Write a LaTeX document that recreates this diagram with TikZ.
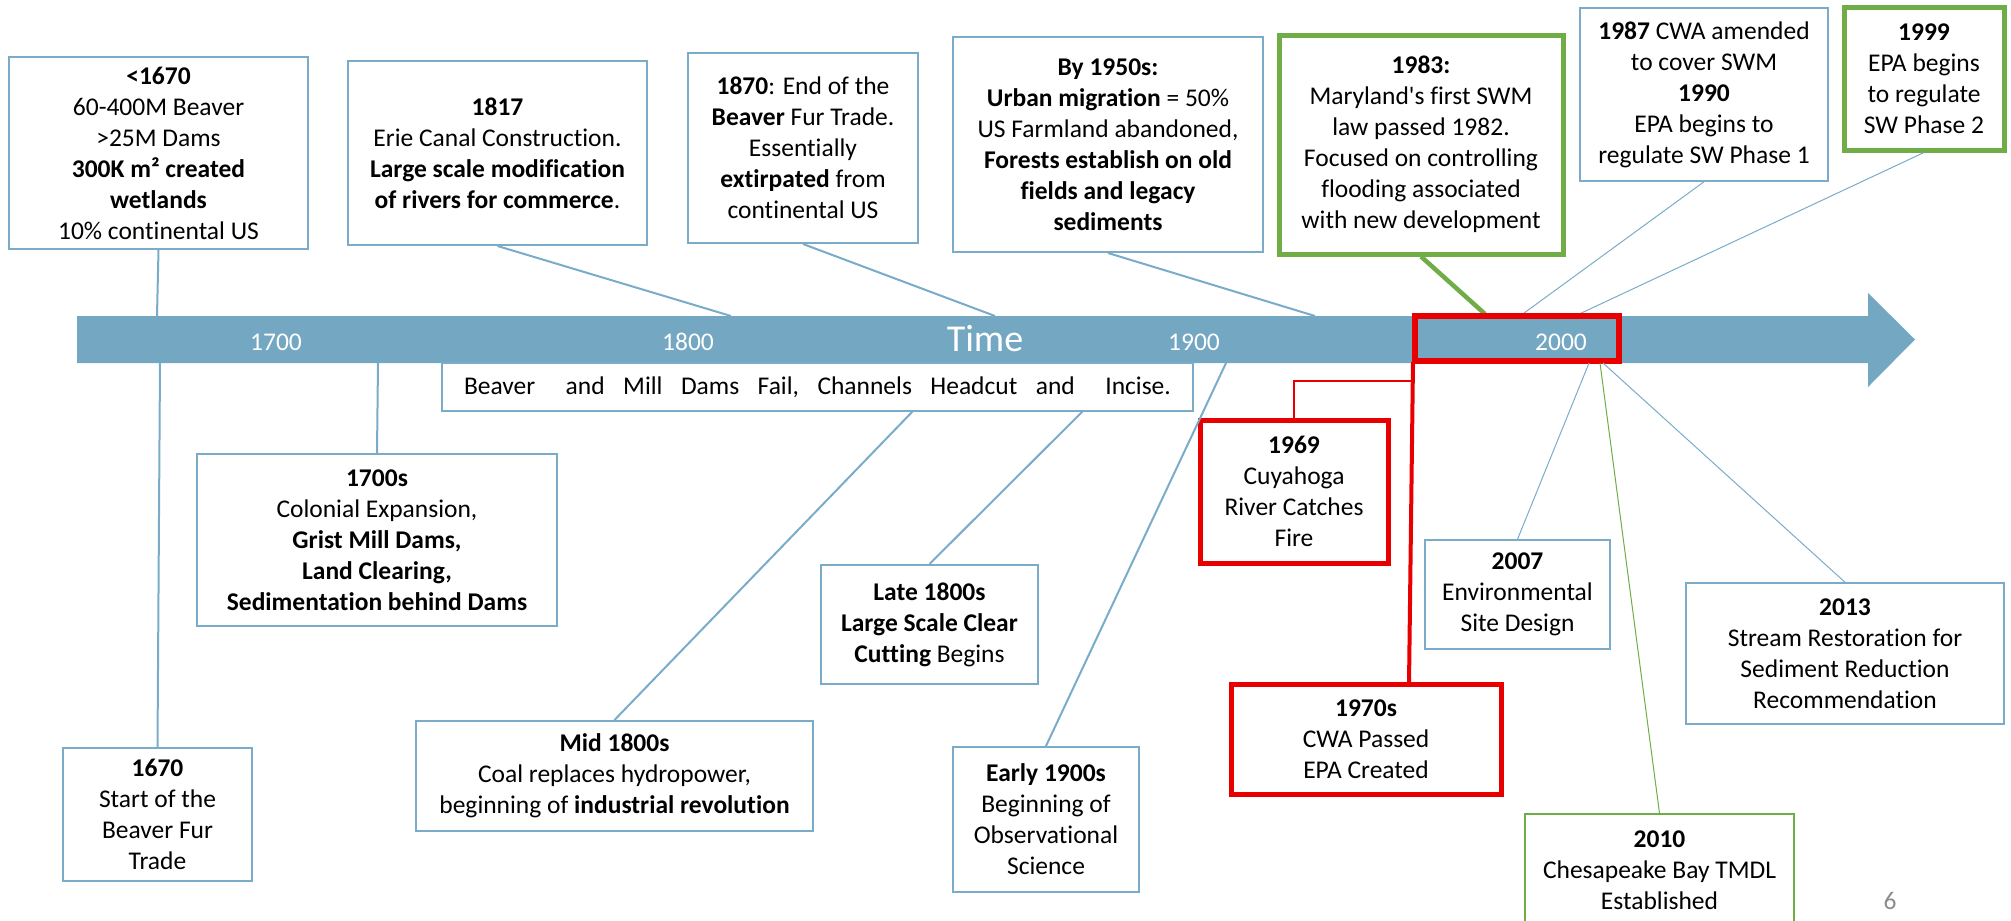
\documentclass[tikz,border=0pt]{standalone}
\usepackage{fontspec}
\setmainfont{Carlito}[RawFeature={-liga}]
\definecolor{axisblue}{RGB}{115,167,194}
\definecolor{boxblue}{RGB}{122,172,202}
\definecolor{grn}{RGB}{112,173,71}
\definecolor{rd}{RGB}{232,0,0}
\begin{document}
\begin{tikzpicture}[x=1pt,y=-1pt,
  every node/.style={font=\fontsize{25.5}{31}\selectfont},
  box/.style={draw=boxblue,line width=2pt,fill=white,align=center,inner sep=0pt},
  thinbox/.style={box,line width=1.5pt},
  greenbox/.style={box,draw=grn,line width=5pt},
  greenthinbox/.style={box,draw=grn,line width=1.5pt},
  redbox/.style={box,draw=rd,line width=5pt},
  conn/.style={draw=boxblue,line width=2pt},
  thinconn/.style={draw=boxblue,line width=1pt},
  axlabel/.style={text=white}]
\useasboundingbox (0,0) rectangle (2011,921);
\clip (0,0) rectangle (2011,921);
% axis arrow
\fill[axisblue] (77,316) -- (1868,316) -- (1868,293) -- (1915,339.5) -- (1868,387) -- (1868,363) -- (77,363) -- cycle;
\node[axlabel] (t1700) at (276,342) {1700};
\node[axlabel] (t1800) at (688,342) {1800};
\node[axlabel,font=\fontsize{38}{40}\selectfont] (ttime) at (985,339) {Time};
\node[axlabel] (t1900) at (1194,342) {1900};
\node[axlabel] (t2000) at (1561,342) {2000};
% axis attach points
\coordinate (aT1670) at (157,316);
\coordinate (aT1817) at (731,316);
\coordinate (aT1870) at (995,316);
\coordinate (aT1950) at (1315,316);
\coordinate (aT1983) at (1485,314);
\coordinate (aT1987) at (1520,316);
\coordinate (aT1999) at (1575,316);
\coordinate (aB1670) at (160,363);
\coordinate (aB1700) at (378,363);
\coordinate (aBearly) at (1226,363);
\coordinate (aB2007) at (1589,363);
\coordinate (aB2010) at (1600,363);
\coordinate (aB2013) at (1603,363);
% top boxes
\node[box,minimum width=299pt,minimum height=192pt] (bpre) at (158.5,153)
  {\textbf{<1670}\\60-400M Beaver\\>25M Dams\\\textbf{300K m²\ created}\\\textbf{wetlands}\\10\% continental US};
\node[box,minimum width=299pt,minimum height=184pt] (b1817) at (497.5,153)
  {\textbf{1817}\\Erie Canal Construction.\\\textbf{Large scale modification}\\\textbf{of rivers for commerce}.};
\node[box,minimum width=230pt,minimum height=190pt] (b1870) at (803,148)
  {\textbf{1870}: End of the\\\textbf{Beaver} Fur Trade.\\Essentially\\\textbf{extirpated} from\\continental US};
\node[box,minimum width=310pt,minimum height=215pt] (b1950) at (1108,144.5)
  {\textbf{By 1950s:}\\\textbf{Urban migration} = 50\%\\US Farmland abandoned,\\\textbf{Forests establish on old}\\\textbf{fields and legacy}\\\textbf{sediments}};
\node[greenbox,minimum width=284pt,minimum height=219pt] (b1983) at (1421,144.5)
  {\textbf{1983:}\\Maryland\textquotesingle s first SWM\\law passed 1982.\\Focused on controlling\\flooding associated\\with new development};
\node[thinbox,minimum width=248pt,minimum height=173pt] (b1987) at (1704,94.5)
  {\textbf{1987} CWA amended\\to cover SWM\\\textbf{1990}\\EPA begins to\\regulate SW Phase 1};
\node[greenbox,minimum width=160pt,minimum height=143pt] (b1999) at (1924,78.5)
  {\textbf{1999}\\EPA begins\\to regulate\\SW Phase 2};
% top connectors
\draw[conn] (bpre.south) -- (aT1670);
\draw[conn] (b1817.south) -- (aT1817);
\draw[conn] (b1870.south) -- (aT1870);
\draw[conn] (b1950.south) -- (aT1950);
\draw[draw=grn,line width=4.5pt] (b1983.south) -- (aT1983);
\draw[thinconn] (b1987.south) -- (aT1987);
\draw[thinconn] (b1999.south) -- (aT1999);
% beaver box
\node[box,minimum width=751pt,minimum height=48pt] (bbeaver) at (817.5,387)
  {\makebox[707pt][s]{Beaver\hfill\hspace{12pt}and\hfill Mill\hfill Dams\hfill Fail,\hfill Channels\hfill Headcut\hfill and\hfill\hspace{12pt}Incise.}};
\coordinate (bvMid) at (913,411);
\coordinate (bvLate) at (1083,411);
% bottom boxes
\node[box,minimum width=360pt,minimum height=172pt] (b1700s) at (377,540)
  {\textbf{1700s}\\Colonial Expansion,\\\textbf{Grist Mill Dams,}\\\textbf{Land Clearing,}\\\textbf{Sedimentation behind Dams}};
\node[box,minimum width=189pt,minimum height=133pt] (b1670) at (157.5,814.5)
  {\textbf{1670}\\Start of the\\Beaver Fur\\Trade};
\node[box,minimum width=397pt,minimum height=110pt] (bmid) at (614.5,776)
  {\textbf{Mid 1800s}\\Coal replaces hydropower,\\beginning of \textbf{industrial revolution}};
\node[box,minimum width=217pt,minimum height=119pt] (blate) at (929.5,624.5)
  {\textbf{Late 1800s}\\\textbf{Large Scale Clear}\\\textbf{Cutting} Begins};
\node[box,minimum width=186pt,minimum height=145pt] (bearly) at (1046,819.5)
  {\textbf{Early 1900s}\\Beginning of\\Observational\\Science};
\node[redbox,minimum width=188pt,minimum height=143pt] (b1969) at (1294,491.5)
  {\textbf{1969}\\Cuyahoga\\River Catches\\Fire};
\node[redbox,minimum width=270pt,minimum height=110pt] (b1970) at (1366,739)
  {\textbf{1970s}\\CWA Passed\\EPA Created};
\node[thinbox,minimum width=185pt,minimum height=109pt] (b2007) at (1517.5,594.5)
  {\textbf{2007}\\Environmental\\Site Design};
\node[greenthinbox,minimum width=269pt,minimum height=112pt] (b2010) at (1659.5,870)
  {\textbf{2010}\\Chesapeake Bay TMDL\\Established};
\node[thinbox,minimum width=318pt,minimum height=141pt] (b2013) at (1845,653.5)
  {\textbf{2013}\\Stream Restoration for\\Sediment Reduction\\Recommendation};
% red highlight of 2000
\node[draw=rd,line width=6pt,minimum width=204pt,minimum height=45pt,inner sep=0pt] (redhl) at (1517,338) {};
\coordinate (rdTop) at (1413,362);
\coordinate (rdBot) at (1409,684);
\coordinate (rdKnee) at (1294,381);
\coordinate (rdJoin) at (1413,381);
% bottom connectors
\draw[conn] (aB1670) -- (b1670.north);
\draw[conn] (aB1700) -- (b1700s.north);
\draw[conn] (bvMid) -- (bmid.north);
\draw[conn] (bvLate) -- (blate.north);
\draw[conn] (aBearly) -- (bearly.north);
\draw[draw=rd,line width=1.5pt] (b1969.north) -- (rdKnee) -- (rdJoin);
\draw[draw=rd,line width=4pt] (rdTop) -- (rdBot);
\draw[thinconn] (b2007.north) -- (aB2007);
\draw[draw=grn,line width=1pt] (b2010.north) -- (aB2010);
\draw[thinconn] (b2013.north) -- (aB2013);
% page number
\node[text=black!45] (pnum) at (1890,901) {6};
\end{tikzpicture}
\end{document}
